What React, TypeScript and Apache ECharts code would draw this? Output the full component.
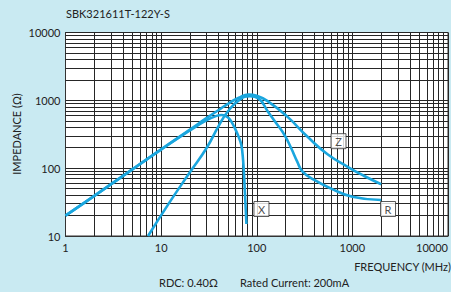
import React, { useEffect, useRef } from 'react';
import * as echarts from 'echarts';

const chartTitle = 'SBK321611T-122Y-S';
const xDecades = [1, 10, 100, 1000];
const yDecades = [10, 100, 1000];
const minorSteps = [2, 3, 4, 5, 6, 7, 8, 9];

// Impedance |Z|
const zFreq = [1, 2, 5, 10, 20, 30, 40, 50, 65, 82, 100, 130, 210, 340, 550, 900, 1300, 2000];
const zVal = [20, 39, 96, 190, 370, 550, 720, 890, 1090, 1220, 1170, 975, 570, 290, 160, 104, 78, 58];

// Resistance R
const rFreq = [7.3, 12, 20, 30, 40, 50, 65, 85, 104, 131, 160, 196, 230, 265, 300, 400, 600, 1000, 2000];
const rVal = [10, 30, 87, 200, 420, 690, 1000, 1150, 1070, 680, 460, 305, 195, 125, 90, 67, 50, 38, 34];

// Reactance X
const xFreq = [1, 2, 5, 10, 20, 30, 38, 43, 47, 51, 55, 59, 64, 69, 72, 74, 76, 78];
const xVal = [20, 39, 96, 188, 360, 510, 590, 608, 590, 545, 470, 390, 300, 220, 130, 70, 32, 15];

// Curve tag boxes (data coordinates)
const tagNames = ['Z', 'X', 'R'];
const tagFreq = [716, 112, 2360];
const tagVal = [250, 25, 25];

const yName = 'IMPEDANCE (Ω)';
const xName = 'FREQUENCY (MHz)';
const noteRdc = 'RDC: 0.40Ω';
const noteCurrent = 'Rated Current: 200mA';

export default function App() {
  const ref = useRef<HTMLDivElement>(null);
  useEffect(() => {
    const chart = echarts.init(ref.current!, null, { renderer: 'svg' });
    const blue = '#1aa6de';
    const gridColor = '#262626';
    const font = 'Lato';
    const minorX: number[] = [];
    xDecades.forEach((d) => minorSteps.forEach((m) => minorX.push(d * m)));
    const minorY: number[] = [];
    yDecades.forEach((d) => minorSteps.forEach((m) => minorY.push(d * m)));
    const pair = (f: number[], v: number[]) => f.map((x, i) => [x, v[i]]);
    const curve = (name: string, f: number[], v: number[], smooth: number) => ({
      type: 'line',
      name,
      data: pair(f, v),
      symbol: 'none',
      showSymbol: false,
      smooth,
      silent: true,
      lineStyle: { color: blue, width: 2.6 },
      itemStyle: { color: blue },
      z: 5,
    });
    chart.setOption({
      animation: false,
      backgroundColor: '#c9eaf2',
      textStyle: { fontFamily: font },
      grid: {
        left: 65.5,
        right: 0,
        top: 32.5,
        bottom: 56,
        show: true,
        backgroundColor: '#ffffff',
        borderColor: '#333',
        borderWidth: 1,
      },
      xAxis: {
        type: 'log',
        logBase: 10,
        min: 1,
        max: 10000,
        axisLine: { show: true, lineStyle: { color: '#333' } },
        axisTick: { show: false },
        splitLine: { show: true, lineStyle: { color: gridColor, width: 1 } },
        axisLabel: {
          color: '#222',
          fontSize: 11,
          fontFamily: font,
          margin: 6,
          alignMaxLabel: 'right',
          showMinLabel: true,
          showMaxLabel: true,
          formatter: (v: number) => String(v),
        },
      },
      yAxis: {
        type: 'log',
        logBase: 10,
        min: 10,
        max: 10000,
        axisLine: { show: true, lineStyle: { color: '#333' } },
        axisTick: { show: false },
        splitLine: { show: true, lineStyle: { color: gridColor, width: 1 } },
        axisLabel: {
          color: '#222',
          fontSize: 11,
          fontFamily: font,
          margin: 5,
          showMinLabel: true,
          showMaxLabel: true,
          formatter: (v: number) => String(v),
        },
      },
      series: [
        {
          type: 'line',
          data: [[1, 10]],
          symbol: 'none',
          silent: true,
          lineStyle: { opacity: 0 },
          markLine: {
            silent: true,
            symbol: ['none', 'none'],
            label: { show: false },
            lineStyle: { color: gridColor, width: 1, type: 'solid' },
            emphasis: { disabled: true },
            data: [
              ...minorX.map((x) => ({ xAxis: x })),
              ...minorY.map((y) => ({ yAxis: y })),
            ],
          },
          z: 1,
        },
        curve('Z', zFreq, zVal, 0.5),
        curve('R', rFreq, rVal, 0.5),
        curve('X', xFreq, xVal, 0.4),
        {
          type: 'scatter',
          silent: true,
          data: tagNames.map((n, i) => ({ name: n, value: [tagFreq[i], tagVal[i]] })),
          symbol: 'rect',
          symbolSize: 15,
          itemStyle: { color: '#fff', borderColor: '#333', borderWidth: 1 },
          label: {
            show: true,
            position: 'inside',
            formatter: '{b}',
            color: '#222',
            fontSize: 11,
            fontFamily: font,
          },
          z: 10,
        },
      ],
      graphic: [
        {
          type: 'text',
          left: 66,
          top: 8,
          style: { text: chartTitle, fill: '#222', font: `11px ${font}` },
        },
        {
          type: 'text',
          x: 16.5,
          y: 134,
          rotation: Math.PI / 2,
          style: {
            text: yName,
            fill: '#222',
            font: `11px ${font}`,
            align: 'center',
            verticalAlign: 'middle',
          },
        },
        {
          type: 'text',
          x: 451,
          y: 266,
          style: {
            text: xName,
            fill: '#222',
            font: `11px ${font}`,
            align: 'right',
            verticalAlign: 'middle',
          },
        },
        {
          type: 'text',
          x: 159,
          y: 282,
          style: { text: noteRdc, fill: '#222', font: `11px ${font}`, verticalAlign: 'middle' },
        },
        {
          type: 'text',
          x: 240,
          y: 282,
          style: { text: noteCurrent, fill: '#222', font: `11px ${font}`, verticalAlign: 'middle' },
        },
      ],
    });
    return () => chart.dispose();
  }, []);
  return (
    <div
      ref={ref}
      style={{ position: 'fixed', left: 0, top: 0, width: 451, height: 292 }}
    />
  );
}
